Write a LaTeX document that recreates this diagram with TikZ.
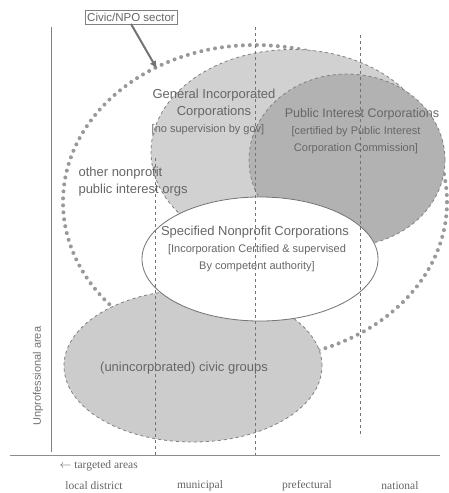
\documentclass[tikz,border=0pt]{standalone}
\usepackage{fontspec}
\setmainfont{Liberation Serif}
\setsansfont{Liberation Sans}
\usetikzlibrary{arrows.meta,shapes.geometric}

\begin{document}
\begin{tikzpicture}[x=1pt,y=-1pt,>=Latex,
 area/.style={ellipse,draw=black!50,dashed,thick,inner sep=0pt},
 guide/.style={draw=black!55,dashed},
 lbl/.style={align=center,text=black!60,font=\sffamily\fontsize{13}{17}\selectfont},
 sub/.style={align=center,text=black!60,font=\sffamily\fontsize{11}{17}\selectfont},
 tick/.style={text=black!60,font=\fontsize{11.5}{12}\selectfont}]
\useasboundingbox[fill=white] (0,0) rectangle (448,493);
% axes
\draw[black!50] (51,27) -- (51,452);
\draw[black!45] (10,455) -- (440,455);
% the sector and its parts
\node[ellipse,draw=black!40,line width=4pt,dash pattern=on 0pt off 7pt,line cap=round,
 minimum width=384,minimum height=314] (sector) at (255,202) {};
\node[area,fill=black!18,minimum width=282,minimum height=205] (gen) at (292,152) {};
\node[area,fill=black!30,minimum width=196,minimum height=172] (pub) at (347,160) {};
\node[area,fill=black!20,minimum width=258,minimum height=152] (civ) at (193,366) {};
\node[ellipse,draw=black!55,thick,fill=white,minimum width=236,minimum height=124] (spec) at (260,259) {};
% areas
\draw[guide] (155,158) -- (155,455);
\draw[guide] (255,27) -- (255,455);
\draw[guide] (360,35) -- (360,437);
% labels
\node[draw=black!50,text=black!60,font=\sffamily\fontsize{11.5}{13}\selectfont,inner sep=2.5pt] (civic) at (131,17) {Civic/NPO sector};
\coordinate (tip) at (157,69);
\draw[-{Latex[length=8pt,width=7pt]},line width=2pt,draw=black!55] (civic.south) -- (tip);
\node[lbl] (gentxt) at (214,104) {General Incorporated\\Corporations};
\node[sub] at (208,130) (gensub) {[no supervision by gov]};
\node[lbl,font=\sffamily\fontsize{12.5}{17}\selectfont] (pubtxt) at (362,114) {Public Interest Corporations};
\node[sub] (pubsub) at (356,140) {[certified by Public Interest\\Corporation Commission]};
\node[lbl,align=left,anchor=west] (other) at (75,182) {other nonprofit\\public interest orgs};
\node[lbl] (spectxt) at (255,232) {Specified Nonprofit Corporations};
\node[sub] (specsub) at (257,258) {[Incorporation Certified \& supervised\\By competent authority]};
\node[lbl] (civtxt) at (184,368) {(unincorporated) civic groups};
\node[rotate=90,text=black!55,font=\sffamily\fontsize{11}{13}\selectfont] (vert) at (38,376) {Unprofessional area};
\node[tick,anchor=west] (targ) at (56,466) {$\leftarrow$ targeted areas};
\node[tick] (loc) at (94,486) {local district};
\node[tick] (mun) at (200,486) {municipal};
\node[tick] (pre) at (307,486) {prefectural};
\node[tick] (nat) at (400,486) {national};
\end{tikzpicture}
\end{document}
